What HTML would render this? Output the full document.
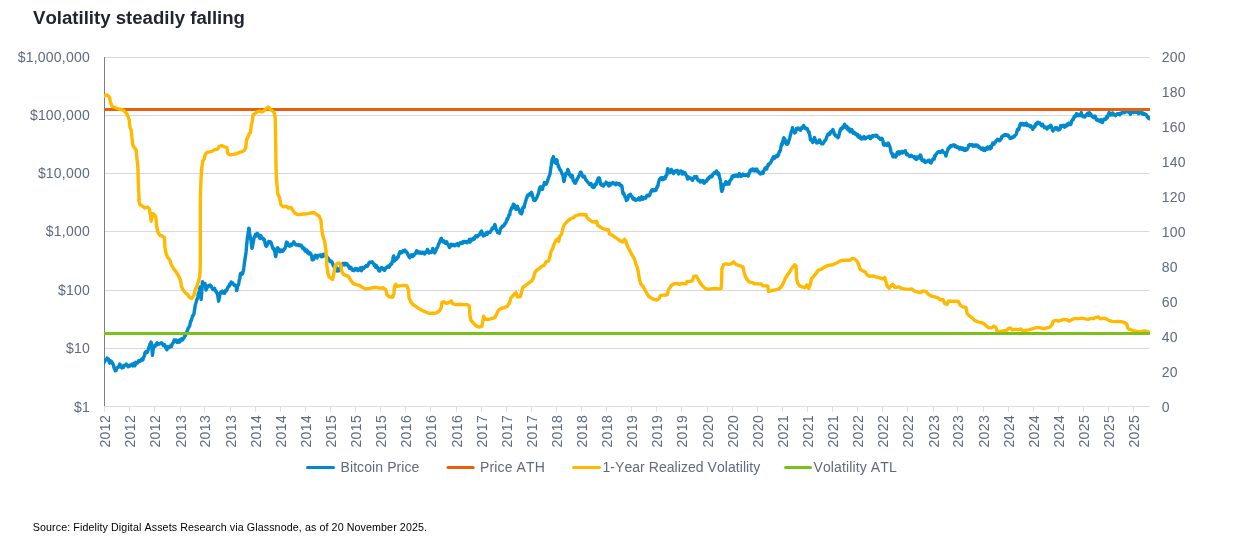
<!DOCTYPE html>
<html><head><meta charset="utf-8"><title>Volatility steadily falling</title>
<style>
html,body{margin:0;padding:0;background:#fff;}
body{width:1234px;height:538px;overflow:hidden;font-family:"Liberation Sans",sans-serif;}
svg{display:block;position:absolute;left:0;top:0;will-change:transform;}
svg text{font-family:"Liberation Sans",sans-serif;font-kerning:none;}
.ax{font-size:14px;fill:#5f6980;letter-spacing:0.2px;}
</style></head><body>
<svg width="1234" height="538" viewBox="0 0 1234 538">
<rect x="0" y="0" width="1234" height="538" fill="#ffffff"/>
<text x="33" y="24.2" font-size="18.63px" font-weight="bold" fill="#1f2430">Volatility steadily falling</text>

<rect x="105" y="57" width="1044.4" height="1" fill="#d9d9dc"/>
<rect x="105" y="115" width="1044.4" height="1" fill="#d9d9dc"/>
<rect x="105" y="173" width="1044.4" height="1" fill="#d9d9dc"/>
<rect x="105" y="231" width="1044.4" height="1" fill="#d9d9dc"/>
<rect x="105" y="290" width="1044.4" height="1" fill="#d9d9dc"/>
<rect x="105" y="348" width="1044.4" height="1" fill="#d9d9dc"/>
<rect x="104" y="406" width="1045.4" height="1" fill="#d9dce4"/>
<rect x="104" y="57" width="1" height="349" fill="#7f7f7f"/>
<text class="ax" x="89.9" y="62.10" text-anchor="end">$1,000,000</text>
<text class="ax" x="89.9" y="120.10" text-anchor="end">$100,000</text>
<text class="ax" x="89.9" y="178.10" text-anchor="end">$10,000</text>
<text class="ax" x="89.9" y="236.10" text-anchor="end">$1,000</text>
<text class="ax" x="89.9" y="295.10" text-anchor="end">$100</text>
<text class="ax" x="89.9" y="353.10" text-anchor="end">$10</text>
<text class="ax" x="89.9" y="412.10" text-anchor="end">$1</text>
<text class="ax" x="1161.7" y="62.10" style="letter-spacing:0.3px">200</text>
<text class="ax" x="1161.7" y="97.10" style="letter-spacing:0.3px">180</text>
<text class="ax" x="1161.7" y="132.10" style="letter-spacing:0.3px">160</text>
<text class="ax" x="1161.7" y="167.10" style="letter-spacing:0.3px">140</text>
<text class="ax" x="1161.7" y="202.10" style="letter-spacing:0.3px">120</text>
<text class="ax" x="1161.7" y="237.10" style="letter-spacing:0.3px">100</text>
<text class="ax" x="1161.7" y="272.10" style="letter-spacing:0.3px">80</text>
<text class="ax" x="1161.7" y="307.10" style="letter-spacing:0.3px">60</text>
<text class="ax" x="1161.7" y="342.10" style="letter-spacing:0.3px">40</text>
<text class="ax" x="1161.7" y="377.10" style="letter-spacing:0.3px">20</text>
<text class="ax" x="1161.7" y="412.10" style="letter-spacing:0.3px">0</text>
<rect x="104" y="407" width="1" height="5" fill="#dde0e8"/>
<text class="ax" style="letter-spacing:0.42px" transform="translate(109.50,447.6) rotate(-90)">2012</text>
<rect x="129" y="407" width="1" height="5" fill="#dde0e8"/>
<text class="ax" style="letter-spacing:0.42px" transform="translate(134.50,447.6) rotate(-90)">2012</text>
<rect x="154" y="407" width="1" height="5" fill="#dde0e8"/>
<text class="ax" style="letter-spacing:0.42px" transform="translate(159.50,447.6) rotate(-90)">2012</text>
<rect x="180" y="407" width="1" height="5" fill="#dde0e8"/>
<text class="ax" style="letter-spacing:0.42px" transform="translate(185.50,447.6) rotate(-90)">2013</text>
<rect x="204" y="407" width="1" height="5" fill="#dde0e8"/>
<text class="ax" style="letter-spacing:0.42px" transform="translate(209.50,447.6) rotate(-90)">2013</text>
<rect x="230" y="407" width="1" height="5" fill="#dde0e8"/>
<text class="ax" style="letter-spacing:0.42px" transform="translate(235.50,447.6) rotate(-90)">2013</text>
<rect x="255" y="407" width="1" height="5" fill="#dde0e8"/>
<text class="ax" style="letter-spacing:0.42px" transform="translate(260.50,447.6) rotate(-90)">2014</text>
<rect x="280" y="407" width="1" height="5" fill="#dde0e8"/>
<text class="ax" style="letter-spacing:0.42px" transform="translate(285.50,447.6) rotate(-90)">2014</text>
<rect x="305" y="407" width="1" height="5" fill="#dde0e8"/>
<text class="ax" style="letter-spacing:0.42px" transform="translate(310.50,447.6) rotate(-90)">2014</text>
<rect x="330" y="407" width="1" height="5" fill="#dde0e8"/>
<text class="ax" style="letter-spacing:0.42px" transform="translate(335.50,447.6) rotate(-90)">2015</text>
<rect x="355" y="407" width="1" height="5" fill="#dde0e8"/>
<text class="ax" style="letter-spacing:0.42px" transform="translate(360.50,447.6) rotate(-90)">2015</text>
<rect x="380" y="407" width="1" height="5" fill="#dde0e8"/>
<text class="ax" style="letter-spacing:0.42px" transform="translate(385.50,447.6) rotate(-90)">2015</text>
<rect x="405" y="407" width="1" height="5" fill="#dde0e8"/>
<text class="ax" style="letter-spacing:0.42px" transform="translate(410.50,447.6) rotate(-90)">2016</text>
<rect x="430" y="407" width="1" height="5" fill="#dde0e8"/>
<text class="ax" style="letter-spacing:0.42px" transform="translate(435.50,447.6) rotate(-90)">2016</text>
<rect x="456" y="407" width="1" height="5" fill="#dde0e8"/>
<text class="ax" style="letter-spacing:0.42px" transform="translate(461.50,447.6) rotate(-90)">2016</text>
<rect x="481" y="407" width="1" height="5" fill="#dde0e8"/>
<text class="ax" style="letter-spacing:0.42px" transform="translate(486.50,447.6) rotate(-90)">2017</text>
<rect x="506" y="407" width="1" height="5" fill="#dde0e8"/>
<text class="ax" style="letter-spacing:0.42px" transform="translate(511.50,447.6) rotate(-90)">2017</text>
<rect x="531" y="407" width="1" height="5" fill="#dde0e8"/>
<text class="ax" style="letter-spacing:0.42px" transform="translate(536.50,447.6) rotate(-90)">2017</text>
<rect x="556" y="407" width="1" height="5" fill="#dde0e8"/>
<text class="ax" style="letter-spacing:0.42px" transform="translate(561.50,447.6) rotate(-90)">2018</text>
<rect x="581" y="407" width="1" height="5" fill="#dde0e8"/>
<text class="ax" style="letter-spacing:0.42px" transform="translate(586.50,447.6) rotate(-90)">2018</text>
<rect x="606" y="407" width="1" height="5" fill="#dde0e8"/>
<text class="ax" style="letter-spacing:0.42px" transform="translate(611.50,447.6) rotate(-90)">2018</text>
<rect x="631" y="407" width="1" height="5" fill="#dde0e8"/>
<text class="ax" style="letter-spacing:0.42px" transform="translate(636.50,447.6) rotate(-90)">2019</text>
<rect x="656" y="407" width="1" height="5" fill="#dde0e8"/>
<text class="ax" style="letter-spacing:0.42px" transform="translate(661.50,447.6) rotate(-90)">2019</text>
<rect x="681" y="407" width="1" height="5" fill="#dde0e8"/>
<text class="ax" style="letter-spacing:0.42px" transform="translate(686.50,447.6) rotate(-90)">2019</text>
<rect x="707" y="407" width="1" height="5" fill="#dde0e8"/>
<text class="ax" style="letter-spacing:0.42px" transform="translate(712.50,447.6) rotate(-90)">2020</text>
<rect x="732" y="407" width="1" height="5" fill="#dde0e8"/>
<text class="ax" style="letter-spacing:0.42px" transform="translate(737.50,447.6) rotate(-90)">2020</text>
<rect x="757" y="407" width="1" height="5" fill="#dde0e8"/>
<text class="ax" style="letter-spacing:0.42px" transform="translate(762.50,447.6) rotate(-90)">2020</text>
<rect x="782" y="407" width="1" height="5" fill="#dde0e8"/>
<text class="ax" style="letter-spacing:0.42px" transform="translate(787.50,447.6) rotate(-90)">2021</text>
<rect x="807" y="407" width="1" height="5" fill="#dde0e8"/>
<text class="ax" style="letter-spacing:0.42px" transform="translate(812.50,447.6) rotate(-90)">2021</text>
<rect x="832" y="407" width="1" height="5" fill="#dde0e8"/>
<text class="ax" style="letter-spacing:0.42px" transform="translate(837.50,447.6) rotate(-90)">2021</text>
<rect x="857" y="407" width="1" height="5" fill="#dde0e8"/>
<text class="ax" style="letter-spacing:0.42px" transform="translate(862.50,447.6) rotate(-90)">2022</text>
<rect x="882" y="407" width="1" height="5" fill="#dde0e8"/>
<text class="ax" style="letter-spacing:0.42px" transform="translate(887.50,447.6) rotate(-90)">2022</text>
<rect x="907" y="407" width="1" height="5" fill="#dde0e8"/>
<text class="ax" style="letter-spacing:0.42px" transform="translate(912.50,447.6) rotate(-90)">2022</text>
<rect x="933" y="407" width="1" height="5" fill="#dde0e8"/>
<text class="ax" style="letter-spacing:0.42px" transform="translate(938.50,447.6) rotate(-90)">2023</text>
<rect x="957" y="407" width="1" height="5" fill="#dde0e8"/>
<text class="ax" style="letter-spacing:0.42px" transform="translate(962.50,447.6) rotate(-90)">2023</text>
<rect x="983" y="407" width="1" height="5" fill="#dde0e8"/>
<text class="ax" style="letter-spacing:0.42px" transform="translate(988.50,447.6) rotate(-90)">2023</text>
<rect x="1008" y="407" width="1" height="5" fill="#dde0e8"/>
<text class="ax" style="letter-spacing:0.42px" transform="translate(1013.50,447.6) rotate(-90)">2024</text>
<rect x="1033" y="407" width="1" height="5" fill="#dde0e8"/>
<text class="ax" style="letter-spacing:0.42px" transform="translate(1038.50,447.6) rotate(-90)">2024</text>
<rect x="1058" y="407" width="1" height="5" fill="#dde0e8"/>
<text class="ax" style="letter-spacing:0.42px" transform="translate(1063.50,447.6) rotate(-90)">2024</text>
<rect x="1083" y="407" width="1" height="5" fill="#dde0e8"/>
<text class="ax" style="letter-spacing:0.42px" transform="translate(1088.50,447.6) rotate(-90)">2025</text>
<rect x="1108" y="407" width="1" height="5" fill="#dde0e8"/>
<text class="ax" style="letter-spacing:0.42px" transform="translate(1113.50,447.6) rotate(-90)">2025</text>
<rect x="1133" y="407" width="1" height="5" fill="#dde0e8"/>
<text class="ax" style="letter-spacing:0.42px" transform="translate(1138.50,447.6) rotate(-90)">2025</text>
<clipPath id="plot"><rect x="104" y="50" width="1046" height="360"/></clipPath>
<g clip-path="url(#plot)">
<path d="M103.0,363.9 L103.5,363.8 L103.9,362.9 L104.4,362.0 L104.8,360.7 L105.3,360.1 L105.7,360.3 L106.2,359.6 L106.6,359.3 L107.1,358.1 L107.5,358.9 L108.0,359.6 L108.4,359.0 L108.9,361.0 L109.3,362.2 L109.8,363.1 L110.2,361.7 L110.7,360.9 L111.1,361.2 L111.6,361.7 L112.0,362.6 L112.5,362.9 L112.9,364.3 L113.4,365.0 L113.8,366.8 L114.3,368.4 L114.7,369.1 L115.2,370.8 L115.6,370.4 L116.1,370.5 L116.5,369.1 L117.0,368.0 L117.4,367.6 L117.9,367.4 L118.3,367.3 L118.8,366.6 L119.2,365.4 L119.7,364.0 L120.1,364.5 L120.6,366.6 L121.0,366.5 L121.5,367.5 L121.9,367.9 L122.4,366.4 L122.8,366.6 L123.3,367.6 L123.7,365.5 L124.2,365.6 L124.6,365.6 L125.1,365.1 L125.5,365.6 L126.0,365.4 L126.4,364.1 L126.9,365.1 L127.3,365.3 L127.8,365.8 L128.2,366.7 L128.7,366.5 L129.1,366.3 L129.6,365.2 L130.0,366.0 L130.5,365.4 L130.9,365.2 L131.4,364.4 L131.8,364.2 L132.3,364.4 L132.7,365.9 L133.2,364.2 L133.6,363.6 L134.1,364.5 L134.5,365.8 L134.9,365.8 L135.4,363.9 L135.8,362.3 L136.3,363.6 L136.7,363.4 L137.2,362.8 L137.6,362.9 L138.1,362.4 L138.5,360.8 L139.0,360.4 L139.4,360.4 L139.9,361.3 L140.3,361.0 L140.8,360.7 L141.2,360.6 L141.7,358.9 L142.1,359.8 L142.6,360.0 L143.0,359.6 L143.5,357.4 L143.9,356.8 L144.4,356.3 L144.8,353.3 L145.3,352.2 L145.7,352.9 L146.2,351.5 L146.6,352.7 L147.1,352.5 L147.5,351.7 L148.0,350.3 L148.4,349.0 L148.9,347.2 L149.3,346.7 L149.8,344.7 L150.2,343.4 L150.7,343.3 L151.1,342.0 L151.6,344.4 L152.0,350.5 L152.5,355.2 L152.9,351.5 L153.4,347.6 L153.8,346.7 L154.3,346.3 L154.7,345.7 L155.2,346.4 L155.6,344.7 L156.1,345.2 L156.5,343.4 L157.0,342.9 L157.4,343.6 L157.9,344.4 L158.3,344.5 L158.8,344.1 L159.2,343.7 L159.7,343.4 L160.1,343.6 L160.6,343.0 L161.0,343.0 L161.5,343.1 L161.9,343.0 L162.4,343.7 L162.8,344.1 L163.3,345.6 L163.7,345.3 L164.2,344.7 L164.6,344.6 L165.1,345.7 L165.5,347.5 L166.0,348.1 L166.4,348.7 L166.9,349.8 L167.3,347.0 L167.8,346.6 L168.2,347.3 L168.7,347.7 L169.1,347.8 L169.6,346.8 L170.0,346.9 L170.5,346.4 L170.9,345.2 L171.4,346.6 L171.8,345.5 L172.3,344.0 L172.7,343.4 L173.2,342.8 L173.6,342.4 L174.1,340.0 L174.5,340.2 L175.0,341.2 L175.4,340.0 L175.9,340.0 L176.3,341.1 L176.8,341.6 L177.2,342.4 L177.7,340.5 L178.1,340.5 L178.6,340.5 L179.0,341.3 L179.5,342.1 L179.9,339.8 L180.4,341.0 L180.8,339.6 L181.3,340.2 L181.7,338.8 L182.2,339.1 L182.6,339.9 L183.1,339.1 L183.5,338.3 L184.0,337.9 L184.4,336.7 L184.9,335.5 L185.3,335.6 L185.8,334.7 L186.2,332.8 L186.7,333.6 L187.1,330.6 L187.6,330.1 L188.0,328.6 L188.5,327.7 L188.9,327.2 L189.4,326.1 L189.8,325.5 L190.3,322.8 L190.7,320.9 L191.2,320.9 L191.6,319.3 L192.1,317.8 L192.5,315.9 L193.0,315.9 L193.4,314.8 L193.9,314.0 L194.3,311.0 L194.8,308.6 L195.2,305.3 L195.7,303.8 L196.1,302.5 L196.6,299.7 L197.0,299.5 L197.5,298.4 L197.9,296.3 L198.4,293.2 L198.8,293.3 L199.3,291.1 L199.7,288.6 L200.2,287.1 L200.6,289.5 L201.1,299.5 L201.5,295.4 L202.0,288.6 L202.4,281.7 L202.9,283.6 L203.3,284.9 L203.8,285.6 L204.2,285.0 L204.7,283.4 L205.1,283.7 L205.6,287.7 L206.0,290.1 L206.5,288.8 L206.9,288.2 L207.4,286.3 L207.8,286.8 L208.3,286.6 L208.7,285.6 L209.2,285.3 L209.6,285.4 L210.1,285.0 L210.5,286.1 L211.0,285.8 L211.4,286.6 L211.9,287.5 L212.3,288.8 L212.8,288.3 L213.2,289.6 L213.7,288.7 L214.1,288.7 L214.6,288.3 L215.0,290.5 L215.5,290.2 L215.9,291.2 L216.4,292.0 L216.8,293.1 L217.3,293.8 L217.7,295.2 L218.2,298.7 L218.6,301.2 L219.1,299.2 L219.5,296.9 L220.0,293.8 L220.4,292.4 L220.9,292.1 L221.3,293.0 L221.8,291.4 L222.2,291.1 L222.7,292.3 L223.1,293.0 L223.6,292.8 L224.0,293.4 L224.5,293.3 L224.9,292.2 L225.4,290.7 L225.8,290.3 L226.3,291.0 L226.7,290.0 L227.2,289.0 L227.6,288.2 L228.1,286.8 L228.5,286.9 L229.0,285.8 L229.4,286.0 L229.9,283.8 L230.3,284.3 L230.8,283.5 L231.2,281.9 L231.7,283.6 L232.1,283.9 L232.6,282.7 L233.0,283.2 L233.5,284.5 L233.9,284.5 L234.4,285.3 L234.8,285.6 L235.3,285.7 L235.7,285.4 L236.2,286.2 L236.6,290.6 L237.1,289.3 L237.5,285.8 L238.0,285.5 L238.4,285.1 L238.9,282.5 L239.3,279.8 L239.8,279.0 L240.2,274.9 L240.7,273.4 L241.1,274.9 L241.6,273.1 L242.0,273.3 L242.5,274.1 L242.9,272.8 L243.4,270.2 L243.8,267.8 L244.3,264.0 L244.7,260.9 L245.2,257.9 L245.6,255.2 L246.1,251.7 L246.5,247.0 L247.0,241.7 L247.4,237.4 L247.9,235.2 L248.3,232.0 L248.8,228.1 L249.2,228.8 L249.7,233.7 L250.1,236.2 L250.6,239.0 L251.0,240.1 L251.5,244.9 L251.9,248.4 L252.4,247.3 L252.8,244.7 L253.3,241.9 L253.7,240.0 L254.2,237.0 L254.6,237.0 L255.1,235.8 L255.5,234.3 L256.0,235.2 L256.4,236.1 L256.9,234.0 L257.3,233.4 L257.8,234.4 L258.2,235.1 L258.7,235.4 L259.1,235.3 L259.6,237.9 L260.0,238.5 L260.5,236.7 L260.9,235.5 L261.4,237.1 L261.8,237.3 L262.3,237.9 L262.7,238.6 L263.2,238.4 L263.6,239.7 L264.1,239.2 L264.5,240.6 L265.0,242.6 L265.4,244.9 L265.9,245.8 L266.3,246.2 L266.8,245.7 L267.2,244.9 L267.7,244.2 L268.1,243.0 L268.6,241.5 L269.0,242.3 L269.5,242.3 L269.9,241.8 L270.4,241.8 L270.8,242.3 L271.3,243.2 L271.7,244.8 L272.2,246.3 L272.6,247.8 L273.1,248.6 L273.5,248.3 L274.0,249.6 L274.4,251.0 L274.9,251.9 L275.3,255.2 L275.8,256.6 L276.2,253.5 L276.7,250.0 L277.1,248.5 L277.6,247.7 L278.0,249.6 L278.5,249.7 L278.9,248.9 L279.4,250.0 L279.8,251.9 L280.3,251.5 L280.7,250.4 L281.2,250.1 L281.6,250.9 L282.1,251.2 L282.5,250.8 L283.0,251.2 L283.4,250.4 L283.9,249.2 L284.3,248.7 L284.8,248.9 L285.2,247.6 L285.7,246.4 L286.1,243.5 L286.6,242.0 L287.0,242.3 L287.5,242.7 L287.9,244.3 L288.4,245.2 L288.8,245.7 L289.3,244.8 L289.7,246.2 L290.2,246.0 L290.6,244.6 L291.1,244.0 L291.5,245.4 L292.0,243.9 L292.4,243.9 L292.9,243.9 L293.3,243.0 L293.8,241.8 L294.2,242.5 L294.7,243.1 L295.1,244.2 L295.6,244.7 L296.0,244.5 L296.5,245.0 L296.9,245.1 L297.4,245.0 L297.8,244.8 L298.3,244.6 L298.7,245.4 L299.2,244.8 L299.6,245.0 L300.1,245.8 L300.5,245.3 L301.0,246.0 L301.4,245.3 L301.9,246.1 L302.3,247.5 L302.8,248.5 L303.2,248.7 L303.7,248.8 L304.1,248.1 L304.6,250.2 L305.0,250.6 L305.5,251.3 L305.9,250.3 L306.4,250.7 L306.8,249.9 L307.3,251.7 L307.7,253.0 L308.2,251.8 L308.6,252.8 L309.1,254.0 L309.5,253.1 L310.0,252.8 L310.4,253.3 L310.9,254.2 L311.3,255.0 L311.8,257.5 L312.2,259.8 L312.7,259.9 L313.1,259.5 L313.6,259.5 L314.0,258.9 L314.5,256.4 L314.9,255.6 L315.4,255.3 L315.8,255.3 L316.3,256.3 L316.7,257.0 L317.2,257.9 L317.6,256.4 L318.1,255.5 L318.5,255.7 L319.0,255.5 L319.4,255.1 L319.9,255.1 L320.3,255.0 L320.8,256.2 L321.2,256.7 L321.7,256.8 L322.1,256.6 L322.6,256.6 L323.0,254.5 L323.5,254.5 L323.9,255.2 L324.4,254.4 L324.8,255.1 L325.3,255.8 L325.7,255.1 L326.2,255.7 L326.6,256.1 L327.1,257.0 L327.5,258.0 L328.0,258.4 L328.4,258.4 L328.9,259.2 L329.3,260.0 L329.8,261.3 L330.2,261.8 L330.7,261.5 L331.1,261.1 L331.6,261.8 L332.0,262.1 L332.5,262.6 L332.9,264.5 L333.4,265.9 L333.8,266.5 L334.3,266.9 L334.7,266.3 L335.2,267.9 L335.6,266.7 L336.1,267.4 L336.5,268.7 L337.0,271.0 L337.4,269.6 L337.9,269.0 L338.3,269.3 L338.8,269.5 L339.2,270.7 L339.7,269.0 L340.1,268.3 L340.6,267.1 L341.0,266.1 L341.5,265.7 L341.9,264.9 L342.4,264.9 L342.8,263.6 L343.3,264.6 L343.7,263.4 L344.2,263.5 L344.6,265.0 L345.1,263.9 L345.5,263.4 L346.0,264.0 L346.4,264.0 L346.9,263.7 L347.3,264.5 L347.8,265.5 L348.2,266.4 L348.7,265.8 L349.1,267.4 L349.6,268.3 L350.0,267.7 L350.5,267.7 L350.9,267.2 L351.4,269.0 L351.8,268.8 L352.3,270.1 L352.7,270.3 L353.2,269.5 L353.6,270.0 L354.1,270.6 L354.5,269.8 L355.0,268.8 L355.4,269.2 L355.9,268.6 L356.3,268.8 L356.8,269.8 L357.2,270.1 L357.7,269.1 L358.1,270.6 L358.6,269.8 L359.0,269.9 L359.5,269.0 L359.9,269.0 L360.4,267.8 L360.8,269.8 L361.3,270.7 L361.7,269.3 L362.2,268.4 L362.6,267.4 L363.1,268.8 L363.5,268.2 L364.0,268.1 L364.4,267.6 L364.9,267.4 L365.3,266.4 L365.8,266.6 L366.2,265.5 L366.7,265.7 L367.1,266.0 L367.6,266.2 L368.0,265.2 L368.5,263.7 L368.9,263.4 L369.4,262.3 L369.8,262.9 L370.3,262.5 L370.7,262.3 L371.2,262.0 L371.6,261.9 L372.1,261.8 L372.5,262.2 L373.0,262.9 L373.4,263.6 L373.9,264.1 L374.3,265.6 L374.8,264.5 L375.2,264.9 L375.7,267.4 L376.1,265.6 L376.6,265.8 L377.0,266.8 L377.5,267.7 L377.9,268.8 L378.4,269.4 L378.8,270.5 L379.3,271.0 L379.7,271.1 L380.2,269.0 L380.6,268.4 L381.1,268.6 L381.5,267.8 L382.0,267.5 L382.4,268.7 L382.9,268.5 L383.3,269.4 L383.8,270.0 L384.2,270.1 L384.7,270.3 L385.1,269.4 L385.6,267.8 L386.0,267.7 L386.5,267.8 L386.9,267.0 L387.4,266.7 L387.8,267.0 L388.3,265.9 L388.7,266.2 L389.2,267.2 L389.6,265.8 L390.1,265.1 L390.5,264.3 L391.0,264.8 L391.4,263.9 L391.9,263.6 L392.3,261.4 L392.8,259.3 L393.2,257.2 L393.7,255.9 L394.1,259.1 L394.6,261.0 L395.0,259.2 L395.5,259.8 L395.9,259.3 L396.4,259.3 L396.8,259.1 L397.3,257.2 L397.7,256.7 L398.2,257.3 L398.6,255.7 L399.1,254.1 L399.5,252.6 L400.0,251.7 L400.4,252.1 L400.9,253.0 L401.3,252.3 L401.8,251.5 L402.2,252.4 L402.7,251.2 L403.1,250.5 L403.6,251.0 L404.0,251.4 L404.5,250.4 L404.9,250.1 L405.4,251.2 L405.8,252.0 L406.3,251.5 L406.7,252.3 L407.2,252.7 L407.6,254.2 L408.1,255.0 L408.5,255.9 L409.0,256.5 L409.4,257.4 L409.9,257.7 L410.3,256.4 L410.8,256.4 L411.2,254.9 L411.7,254.7 L412.1,255.3 L412.6,256.4 L413.0,255.6 L413.5,255.4 L413.9,255.6 L414.4,254.1 L414.8,254.1 L415.3,253.3 L415.7,253.5 L416.2,252.2 L416.6,250.7 L417.1,251.1 L417.5,251.9 L418.0,251.8 L418.4,252.9 L418.9,252.7 L419.3,252.4 L419.8,253.1 L420.2,252.0 L420.7,252.2 L421.1,252.6 L421.6,253.4 L422.0,253.0 L422.5,253.1 L422.9,252.3 L423.4,252.6 L423.8,253.6 L424.3,252.4 L424.7,254.0 L425.2,252.5 L425.6,252.1 L426.1,251.9 L426.5,252.4 L427.0,250.9 L427.4,249.4 L427.9,250.5 L428.3,251.2 L428.8,251.4 L429.2,253.0 L429.7,252.0 L430.1,251.5 L430.6,251.7 L431.0,251.4 L431.5,252.4 L431.9,250.9 L432.4,250.7 L432.8,248.5 L433.3,250.5 L433.7,250.5 L434.2,251.5 L434.6,252.9 L435.1,252.0 L435.5,251.3 L436.0,250.4 L436.4,248.9 L436.9,247.8 L437.3,247.7 L437.8,246.6 L438.2,245.3 L438.7,243.9 L439.1,243.3 L439.6,242.1 L440.0,240.6 L440.5,239.9 L440.9,238.8 L441.4,238.3 L441.8,240.3 L442.3,240.9 L442.7,240.4 L443.2,241.9 L443.6,242.1 L444.1,240.9 L444.5,242.6 L445.0,242.7 L445.4,243.3 L445.9,243.1 L446.3,242.9 L446.8,241.8 L447.2,243.4 L447.7,244.1 L448.1,244.6 L448.6,245.7 L449.0,246.4 L449.5,247.6 L449.9,246.8 L450.4,246.3 L450.8,244.3 L451.3,244.2 L451.7,244.8 L452.2,245.5 L452.6,244.8 L453.1,244.5 L453.5,245.6 L454.0,244.7 L454.4,244.9 L454.9,245.8 L455.3,244.9 L455.8,245.3 L456.2,244.1 L456.7,244.1 L457.1,243.8 L457.6,243.8 L458.0,244.5 L458.5,245.8 L458.9,244.2 L459.4,243.4 L459.8,243.7 L460.3,242.7 L460.7,243.3 L461.2,243.6 L461.6,243.2 L462.1,243.5 L462.5,242.1 L463.0,243.0 L463.4,241.7 L463.9,241.5 L464.3,241.4 L464.8,241.4 L465.2,242.3 L465.7,242.1 L466.1,241.5 L466.6,241.9 L467.0,242.7 L467.5,241.8 L467.9,241.4 L468.4,241.8 L468.8,241.1 L469.3,239.4 L469.7,241.2 L470.2,242.1 L470.6,239.3 L471.1,239.3 L471.5,239.5 L472.0,240.0 L472.4,240.0 L472.9,239.3 L473.3,238.3 L473.8,238.4 L474.2,239.1 L474.7,237.8 L475.1,237.0 L475.6,237.2 L476.0,235.8 L476.5,236.2 L476.9,236.2 L477.4,236.7 L477.8,235.9 L478.3,235.3 L478.7,235.1 L479.2,235.1 L479.6,234.2 L480.1,233.1 L480.5,232.4 L481.0,231.7 L481.4,231.0 L481.9,232.0 L482.3,234.6 L482.8,233.9 L483.2,236.0 L483.7,235.1 L484.1,235.1 L484.6,235.4 L485.0,234.1 L485.5,234.6 L485.9,234.4 L486.4,232.8 L486.8,233.3 L487.3,234.2 L487.7,232.2 L488.2,233.0 L488.6,232.7 L489.1,232.5 L489.5,232.2 L490.0,232.5 L490.4,231.3 L490.9,231.2 L491.3,229.9 L491.8,229.7 L492.2,228.2 L492.7,227.7 L493.1,228.5 L493.6,227.8 L494.0,226.8 L494.5,225.3 L494.9,224.5 L495.4,226.2 L495.8,228.3 L496.3,229.7 L496.7,230.7 L497.2,231.1 L497.6,232.5 L498.1,232.0 L498.5,231.8 L499.0,233.0 L499.4,233.2 L499.9,231.5 L500.3,229.6 L500.8,228.2 L501.2,227.6 L501.7,227.5 L502.1,226.2 L502.6,226.6 L503.0,226.5 L503.5,225.5 L503.9,225.8 L504.4,224.6 L504.8,223.5 L505.3,223.3 L505.7,223.2 L506.2,221.3 L506.6,220.6 L507.1,218.8 L507.5,219.7 L508.0,217.7 L508.4,217.3 L508.9,215.1 L509.3,214.6 L509.8,214.8 L510.2,210.9 L510.7,209.9 L511.1,209.6 L511.6,208.6 L512.0,207.1 L512.5,208.1 L512.9,206.7 L513.4,204.2 L513.8,205.0 L514.3,204.7 L514.7,207.2 L515.2,207.7 L515.6,208.5 L516.1,209.3 L516.5,208.8 L517.0,207.3 L517.4,206.2 L517.9,208.3 L518.3,209.3 L518.8,208.9 L519.2,210.2 L519.7,211.3 L520.1,212.7 L520.6,212.0 L521.0,213.6 L521.5,213.9 L521.9,212.8 L522.4,211.5 L522.8,207.6 L523.3,207.1 L523.7,206.6 L524.2,207.4 L524.6,204.7 L525.1,203.0 L525.5,201.4 L526.0,200.5 L526.4,198.2 L526.9,197.8 L527.3,195.9 L527.8,195.3 L528.2,194.7 L528.7,195.0 L529.1,194.7 L529.6,193.8 L530.0,195.1 L530.5,194.5 L530.9,193.0 L531.4,192.4 L531.8,193.4 L532.3,194.4 L532.7,196.4 L533.2,198.4 L533.6,199.8 L534.1,200.4 L534.5,199.4 L535.0,200.4 L535.4,199.9 L535.9,199.2 L536.3,198.2 L536.8,197.7 L537.2,196.5 L537.7,195.1 L538.1,194.2 L538.6,193.5 L539.0,191.3 L539.5,188.6 L539.9,187.6 L540.4,186.9 L540.8,188.1 L541.3,187.5 L541.7,188.3 L542.2,189.5 L542.6,188.7 L543.1,186.7 L543.5,185.7 L544.0,184.7 L544.4,182.4 L544.9,182.9 L545.3,183.8 L545.8,184.0 L546.2,184.2 L546.7,183.3 L547.1,182.1 L547.6,180.8 L548.0,179.4 L548.5,177.9 L548.9,176.9 L549.4,175.7 L549.8,174.7 L550.3,172.2 L550.7,168.3 L551.2,165.8 L551.6,162.5 L552.1,159.5 L552.5,158.7 L553.0,158.1 L553.4,156.6 L553.9,159.3 L554.3,159.4 L554.8,162.5 L555.2,161.2 L555.7,161.9 L556.1,163.2 L556.6,159.6 L557.0,160.3 L557.5,162.8 L557.9,164.4 L558.4,166.8 L558.8,166.3 L559.3,168.3 L559.7,169.3 L560.2,169.9 L560.6,170.1 L561.1,171.4 L561.5,172.2 L562.0,173.8 L562.4,174.6 L562.9,174.5 L563.3,178.1 L563.8,181.6 L564.2,181.0 L564.7,178.2 L565.1,176.4 L565.6,175.0 L566.0,173.0 L566.5,173.1 L566.9,173.7 L567.4,171.6 L567.8,169.5 L568.3,170.2 L568.7,171.6 L569.2,173.4 L569.6,175.0 L570.1,175.5 L570.5,175.9 L571.0,177.0 L571.4,176.3 L571.9,175.3 L572.3,175.5 L572.8,178.4 L573.2,180.7 L573.7,180.7 L574.1,181.3 L574.6,182.9 L575.0,182.7 L575.5,183.1 L575.9,181.9 L576.4,180.1 L576.8,180.5 L577.3,178.9 L577.7,178.2 L578.2,177.3 L578.6,176.1 L579.1,175.6 L579.5,174.7 L580.0,173.3 L580.4,172.2 L580.9,172.2 L581.3,172.9 L581.8,174.2 L582.2,175.3 L582.7,176.5 L583.1,177.1 L583.6,176.9 L584.0,177.1 L584.5,176.3 L584.9,177.5 L585.4,178.9 L585.8,179.9 L586.3,180.2 L586.7,180.5 L587.2,181.7 L587.6,181.9 L588.1,182.7 L588.5,183.2 L589.0,183.4 L589.4,184.4 L589.9,183.8 L590.3,183.7 L590.8,183.5 L591.2,183.6 L591.7,185.5 L592.1,186.8 L592.6,186.4 L593.0,186.7 L593.5,187.5 L593.9,187.1 L594.4,187.0 L594.8,184.8 L595.3,183.9 L595.7,184.0 L596.2,184.5 L596.6,183.1 L597.1,181.2 L597.5,180.1 L598.0,178.9 L598.4,178.0 L598.9,179.0 L599.3,177.9 L599.8,179.5 L600.2,182.6 L600.7,184.3 L601.1,184.9 L601.6,184.0 L602.0,184.4 L602.5,185.5 L602.9,185.5 L603.4,186.0 L603.8,185.1 L604.3,184.7 L604.7,183.8 L605.2,183.6 L605.6,184.0 L606.1,182.1 L606.6,182.6 L607.0,183.2 L607.5,183.1 L607.9,183.4 L608.4,184.6 L608.8,186.0 L609.3,185.6 L609.7,185.1 L610.2,183.3 L610.6,184.9 L611.1,184.3 L611.5,184.0 L612.0,183.0 L612.4,183.3 L612.9,182.6 L613.3,183.1 L613.8,183.7 L614.2,183.7 L614.7,183.9 L615.1,183.3 L615.6,184.8 L616.0,184.2 L616.5,183.1 L616.9,183.8 L617.4,183.8 L617.8,183.5 L618.3,183.7 L618.7,184.3 L619.2,183.5 L619.6,183.8 L620.1,185.2 L620.5,185.7 L621.0,185.4 L621.4,185.5 L621.9,186.0 L622.3,189.1 L622.8,192.8 L623.2,193.7 L623.7,192.9 L624.1,194.8 L624.6,195.4 L625.0,197.0 L625.5,197.3 L625.9,198.3 L626.4,200.6 L626.8,199.8 L627.3,199.6 L627.7,199.5 L628.2,197.2 L628.6,195.5 L629.1,195.5 L629.5,195.0 L630.0,194.3 L630.4,194.2 L630.9,195.8 L631.3,195.8 L631.8,196.1 L632.2,196.8 L632.7,198.1 L633.1,199.3 L633.6,199.3 L634.0,198.8 L634.5,198.5 L634.9,199.8 L635.4,200.3 L635.8,199.5 L636.3,199.7 L636.7,199.9 L637.2,199.9 L637.6,199.6 L638.1,198.7 L638.5,198.7 L639.0,197.9 L639.4,199.5 L639.9,199.9 L640.3,198.6 L640.8,199.4 L641.2,199.2 L641.7,196.8 L642.1,198.0 L642.6,198.1 L643.0,199.2 L643.5,197.4 L643.9,197.8 L644.4,197.9 L644.8,197.9 L645.3,197.7 L645.7,198.2 L646.2,196.5 L646.6,195.8 L647.1,195.2 L647.5,195.4 L648.0,195.3 L648.4,195.8 L648.9,195.9 L649.3,195.7 L649.8,194.8 L650.2,193.0 L650.7,192.4 L651.1,191.1 L651.6,190.3 L652.0,189.8 L652.5,190.8 L652.9,189.7 L653.4,190.0 L653.8,190.7 L654.3,190.0 L654.7,190.5 L655.2,189.4 L655.6,190.4 L656.1,190.2 L656.5,187.8 L657.0,187.8 L657.4,186.1 L657.9,186.2 L658.3,183.5 L658.8,181.6 L659.2,180.0 L659.7,179.2 L660.1,179.0 L660.6,178.0 L661.0,178.3 L661.5,178.7 L661.9,179.3 L662.4,177.6 L662.8,179.7 L663.3,179.5 L663.7,177.9 L664.2,178.3 L664.6,178.7 L665.1,178.6 L665.5,176.3 L666.0,176.5 L666.4,174.8 L666.9,174.7 L667.3,170.9 L667.8,168.7 L668.2,169.3 L668.7,169.6 L669.1,172.1 L669.6,172.5 L670.0,172.7 L670.5,172.1 L670.9,170.4 L671.4,169.5 L671.8,170.2 L672.3,170.8 L672.7,171.4 L673.2,173.0 L673.6,173.6 L674.1,172.6 L674.5,172.1 L675.0,171.3 L675.4,170.8 L675.9,170.7 L676.3,171.4 L676.8,171.0 L677.2,170.4 L677.7,172.5 L678.1,172.9 L678.6,173.9 L679.0,172.0 L679.5,171.9 L679.9,172.0 L680.4,170.9 L680.8,170.9 L681.3,172.0 L681.7,173.0 L682.2,174.0 L682.6,172.8 L683.1,171.9 L683.5,172.8 L684.0,173.7 L684.4,173.7 L684.9,172.7 L685.3,173.7 L685.8,174.3 L686.2,175.3 L686.7,175.9 L687.1,177.3 L687.6,179.1 L688.0,178.5 L688.5,176.9 L688.9,177.5 L689.4,177.9 L689.8,177.7 L690.3,178.2 L690.7,178.0 L691.2,178.6 L691.6,178.9 L692.1,180.1 L692.5,180.4 L693.0,178.5 L693.4,178.7 L693.9,177.8 L694.3,176.8 L694.8,176.8 L695.2,177.8 L695.7,177.0 L696.1,177.0 L696.6,176.6 L697.0,177.9 L697.5,179.5 L697.9,180.1 L698.4,180.7 L698.8,180.6 L699.3,181.1 L699.7,180.3 L700.2,182.0 L700.6,182.0 L701.1,181.4 L701.5,181.0 L702.0,180.7 L702.4,181.6 L702.9,182.2 L703.3,180.6 L703.8,182.0 L704.2,183.2 L704.7,182.9 L705.1,181.5 L705.6,181.1 L706.0,180.8 L706.5,181.3 L706.9,180.9 L707.4,179.1 L707.8,179.5 L708.3,178.1 L708.7,178.9 L709.2,177.5 L709.6,176.9 L710.1,176.3 L710.5,176.0 L711.0,177.0 L711.4,177.0 L711.9,176.6 L712.3,176.0 L712.8,174.2 L713.2,173.9 L713.7,173.5 L714.1,172.8 L714.6,173.4 L715.0,172.9 L715.5,172.5 L715.9,172.0 L716.4,170.9 L716.8,172.2 L717.3,173.7 L717.7,174.3 L718.2,174.1 L718.6,173.0 L719.1,174.9 L719.5,177.4 L720.0,178.7 L720.4,180.3 L720.9,184.2 L721.3,189.4 L721.8,191.4 L722.2,190.6 L722.7,189.4 L723.1,186.4 L723.6,185.4 L724.0,184.1 L724.5,184.2 L724.9,184.6 L725.4,183.3 L725.8,181.7 L726.3,183.3 L726.7,183.5 L727.2,184.2 L727.6,182.5 L728.1,183.2 L728.5,184.1 L729.0,184.1 L729.4,182.1 L729.9,181.0 L730.3,179.9 L730.8,179.8 L731.2,179.5 L731.7,178.4 L732.1,176.4 L732.6,176.7 L733.0,175.6 L733.5,175.7 L733.9,175.6 L734.4,176.5 L734.8,176.5 L735.3,175.2 L735.7,175.1 L736.2,176.1 L736.6,175.1 L737.1,175.3 L737.5,176.0 L738.0,176.5 L738.4,176.2 L738.9,174.5 L739.3,173.6 L739.8,174.2 L740.2,174.6 L740.7,176.4 L741.1,174.9 L741.6,175.7 L742.0,175.9 L742.5,174.3 L742.9,174.0 L743.4,174.7 L743.8,174.6 L744.3,174.9 L744.7,175.5 L745.2,174.8 L745.6,175.3 L746.1,174.8 L746.5,174.5 L747.0,175.2 L747.4,174.6 L747.9,175.0 L748.3,176.1 L748.8,174.5 L749.2,172.9 L749.7,172.2 L750.1,170.5 L750.6,171.2 L751.0,169.7 L751.5,170.2 L751.9,169.6 L752.4,169.0 L752.8,170.5 L753.3,169.3 L753.7,170.6 L754.2,170.4 L754.6,170.9 L755.1,169.3 L755.5,170.0 L756.0,170.6 L756.4,169.6 L756.9,169.1 L757.3,171.3 L757.8,171.4 L758.2,171.5 L758.7,171.8 L759.1,173.1 L759.6,173.1 L760.0,173.0 L760.5,174.0 L760.9,172.9 L761.4,172.9 L761.8,173.5 L762.3,172.0 L762.7,172.5 L763.2,173.3 L763.6,171.2 L764.1,170.1 L764.5,169.4 L765.0,168.3 L765.4,169.1 L765.9,167.5 L766.3,168.1 L766.8,169.0 L767.2,166.9 L767.7,166.4 L768.1,164.6 L768.6,165.3 L769.0,164.3 L769.5,163.8 L769.9,163.4 L770.4,163.2 L770.8,162.1 L771.3,161.4 L771.7,160.2 L772.2,159.8 L772.6,158.3 L773.1,158.4 L773.5,156.8 L774.0,156.9 L774.4,158.5 L774.9,157.9 L775.3,156.6 L775.8,157.0 L776.2,156.3 L776.7,155.3 L777.1,155.4 L777.6,156.4 L778.0,155.8 L778.5,154.7 L778.9,153.0 L779.4,151.4 L779.8,151.8 L780.3,150.5 L780.7,148.3 L781.2,145.7 L781.6,144.0 L782.1,145.1 L782.5,142.3 L783.0,140.9 L783.4,138.9 L783.9,137.7 L784.3,138.8 L784.8,139.2 L785.2,140.2 L785.7,143.1 L786.1,142.9 L786.6,144.2 L787.0,143.3 L787.5,144.1 L787.9,143.3 L788.4,142.7 L788.8,140.2 L789.3,139.5 L789.7,138.1 L790.2,135.8 L790.6,134.7 L791.1,132.4 L791.5,130.9 L792.0,130.4 L792.4,127.7 L792.9,129.3 L793.3,130.0 L793.8,130.4 L794.2,131.8 L794.7,133.0 L795.1,131.8 L795.6,132.0 L796.0,129.8 L796.5,128.4 L796.9,129.6 L797.4,129.1 L797.8,129.1 L798.3,128.1 L798.7,129.0 L799.2,129.3 L799.6,129.9 L800.1,129.8 L800.5,130.3 L801.0,129.2 L801.4,128.2 L801.9,127.2 L802.3,128.4 L802.8,127.3 L803.2,126.3 L803.7,125.6 L804.1,126.6 L804.6,126.9 L805.0,128.1 L805.5,128.8 L805.9,128.8 L806.4,128.4 L806.8,128.9 L807.3,128.7 L807.7,129.8 L808.2,131.2 L808.6,132.5 L809.1,131.9 L809.5,134.1 L810.0,136.3 L810.4,139.7 L810.9,139.2 L811.3,139.8 L811.8,140.7 L812.2,141.4 L812.7,142.4 L813.1,141.2 L813.6,141.3 L814.0,139.3 L814.5,137.6 L814.9,138.6 L815.4,139.9 L815.8,141.1 L816.3,141.9 L816.7,143.0 L817.2,142.1 L817.6,142.8 L818.1,141.9 L818.5,142.4 L819.0,141.9 L819.4,139.9 L819.9,140.1 L820.3,142.4 L820.8,142.9 L821.2,143.3 L821.7,143.8 L822.1,143.7 L822.6,143.6 L823.0,143.8 L823.5,142.8 L823.9,142.6 L824.4,140.9 L824.8,140.7 L825.3,140.4 L825.7,139.9 L826.2,138.8 L826.6,137.2 L827.1,136.1 L827.5,135.3 L828.0,134.3 L828.4,134.1 L828.9,133.4 L829.3,134.6 L829.8,134.4 L830.2,133.4 L830.7,131.7 L831.1,132.0 L831.6,131.8 L832.0,131.1 L832.5,130.7 L832.9,129.6 L833.4,131.0 L833.8,131.6 L834.3,134.4 L834.7,134.3 L835.2,134.4 L835.6,135.9 L836.1,136.1 L836.5,136.3 L837.0,136.1 L837.4,136.1 L837.9,137.8 L838.3,136.9 L838.8,136.3 L839.2,133.9 L839.7,132.3 L840.1,130.3 L840.6,130.4 L841.0,128.3 L841.5,128.2 L841.9,128.2 L842.4,128.5 L842.8,126.8 L843.3,127.2 L843.7,125.9 L844.2,125.0 L844.6,124.2 L845.1,126.0 L845.5,127.4 L846.0,126.6 L846.4,126.2 L846.9,126.4 L847.3,129.1 L847.8,129.6 L848.2,129.0 L848.7,128.0 L849.1,128.5 L849.6,130.3 L850.0,131.8 L850.5,131.1 L850.9,130.5 L851.4,130.4 L851.8,129.5 L852.3,131.5 L852.7,131.4 L853.2,133.3 L853.6,132.5 L854.1,132.2 L854.5,133.3 L855.0,133.1 L855.4,134.3 L855.9,134.4 L856.3,133.7 L856.8,134.9 L857.2,135.8 L857.7,134.4 L858.1,136.6 L858.6,136.9 L859.0,137.4 L859.5,135.9 L859.9,136.1 L860.4,136.6 L860.8,138.7 L861.3,138.3 L861.7,139.0 L862.2,137.8 L862.6,138.1 L863.1,138.4 L863.5,136.9 L864.0,136.6 L864.4,137.1 L864.9,138.7 L865.3,138.9 L865.8,138.5 L866.2,137.6 L866.7,137.5 L867.1,137.2 L867.6,137.1 L868.0,136.7 L868.5,137.4 L868.9,137.2 L869.4,136.3 L869.8,138.0 L870.3,138.6 L870.7,138.4 L871.2,137.7 L871.6,136.2 L872.1,135.9 L872.5,137.1 L873.0,136.4 L873.4,135.6 L873.9,135.9 L874.3,135.7 L874.8,135.6 L875.2,135.3 L875.7,136.1 L876.1,135.2 L876.6,136.3 L877.0,135.6 L877.5,136.6 L877.9,136.9 L878.4,137.2 L878.8,138.1 L879.3,138.0 L879.7,138.9 L880.2,139.4 L880.6,139.2 L881.1,138.7 L881.5,138.3 L882.0,138.5 L882.4,139.1 L882.9,140.6 L883.3,144.3 L883.8,145.1 L884.2,145.3 L884.7,144.3 L885.1,143.9 L885.6,144.1 L886.0,144.7 L886.5,144.0 L886.9,145.5 L887.4,144.6 L887.8,145.3 L888.3,143.1 L888.7,143.9 L889.2,145.2 L889.6,146.2 L890.1,147.4 L890.5,149.2 L891.0,151.9 L891.4,152.7 L891.9,153.8 L892.3,153.7 L892.8,156.4 L893.2,156.8 L893.7,156.4 L894.1,155.5 L894.6,155.1 L895.0,156.5 L895.5,157.0 L895.9,155.9 L896.4,156.1 L896.8,153.9 L897.3,152.3 L897.7,152.4 L898.2,151.9 L898.6,151.7 L899.1,152.0 L899.5,154.1 L900.0,152.4 L900.4,152.0 L900.9,152.0 L901.3,151.6 L901.8,152.1 L902.2,152.9 L902.7,151.4 L903.1,151.8 L903.6,151.8 L904.0,152.4 L904.5,151.5 L904.9,151.1 L905.4,150.7 L905.8,152.8 L906.3,153.9 L906.7,154.6 L907.2,153.5 L907.6,154.6 L908.1,155.2 L908.5,155.3 L909.0,155.5 L909.4,156.4 L909.9,156.6 L910.3,156.1 L910.8,156.0 L911.2,155.3 L911.7,155.7 L912.1,156.0 L912.6,156.7 L913.0,156.7 L913.5,156.8 L913.9,156.8 L914.4,156.5 L914.8,158.5 L915.3,158.4 L915.7,158.2 L916.2,159.5 L916.6,159.3 L917.1,156.9 L917.5,157.2 L918.0,157.3 L918.4,158.1 L918.9,158.1 L919.3,157.6 L919.8,155.8 L920.2,155.0 L920.7,155.3 L921.1,156.5 L921.6,159.1 L922.0,160.5 L922.5,160.5 L922.9,160.8 L923.4,161.2 L923.8,160.9 L924.3,160.1 L924.7,161.5 L925.2,162.4 L925.6,161.6 L926.1,162.0 L926.5,161.8 L927.0,161.7 L927.4,161.6 L927.9,160.5 L928.3,160.9 L928.8,161.4 L929.2,160.2 L929.7,161.7 L930.1,162.5 L930.6,162.8 L931.0,163.0 L931.5,162.2 L931.9,160.9 L932.4,159.9 L932.8,159.1 L933.3,159.3 L933.7,159.3 L934.2,159.2 L934.6,155.7 L935.1,156.3 L935.5,155.9 L936.0,154.4 L936.4,153.9 L936.9,153.3 L937.3,152.6 L937.8,152.2 L938.2,152.1 L938.7,151.6 L939.1,152.0 L939.6,152.2 L940.0,152.4 L940.5,151.5 L940.9,151.5 L941.4,151.4 L941.8,151.7 L942.3,150.5 L942.7,151.3 L943.2,152.2 L943.6,152.6 L944.1,152.2 L944.5,152.4 L945.0,153.0 L945.4,154.4 L945.9,156.1 L946.3,154.6 L946.8,152.6 L947.2,151.7 L947.7,150.5 L948.1,148.7 L948.6,147.9 L949.0,147.6 L949.5,147.9 L949.9,146.5 L950.4,145.9 L950.8,146.5 L951.3,145.5 L951.7,145.9 L952.2,146.1 L952.6,145.9 L953.1,145.0 L953.5,145.1 L954.0,144.9 L954.4,145.7 L954.9,145.4 L955.3,146.8 L955.8,145.7 L956.2,146.2 L956.7,146.6 L957.1,147.6 L957.6,147.0 L958.0,147.6 L958.5,147.1 L958.9,147.9 L959.4,149.1 L959.8,148.2 L960.3,148.4 L960.7,147.5 L961.2,148.5 L961.6,149.3 L962.1,148.9 L962.5,147.9 L963.0,148.5 L963.4,149.5 L963.9,150.1 L964.3,150.4 L964.8,148.6 L965.2,148.6 L965.7,150.3 L966.1,149.0 L966.6,149.2 L967.0,149.6 L967.5,148.5 L967.9,147.9 L968.4,146.5 L968.8,145.0 L969.3,144.8 L969.7,144.5 L970.2,144.6 L970.6,145.1 L971.1,144.7 L971.5,144.7 L972.0,144.9 L972.4,144.7 L972.9,146.2 L973.3,146.0 L973.8,145.7 L974.2,145.4 L974.7,145.0 L975.1,146.2 L975.6,146.0 L976.0,145.0 L976.5,144.9 L976.9,145.1 L977.4,145.2 L977.8,146.7 L978.3,146.0 L978.7,147.0 L979.2,147.5 L979.6,147.0 L980.1,147.7 L980.5,148.1 L981.0,148.9 L981.4,148.7 L981.9,149.3 L982.3,148.2 L982.8,148.0 L983.2,149.4 L983.7,150.3 L984.1,150.1 L984.6,149.6 L985.0,150.4 L985.5,148.3 L985.9,148.0 L986.4,148.8 L986.8,149.2 L987.3,148.1 L987.7,146.9 L988.2,148.8 L988.6,148.8 L989.1,148.1 L989.5,148.4 L990.0,148.9 L990.4,146.4 L990.9,147.7 L991.3,148.0 L991.8,145.3 L992.2,145.4 L992.7,143.1 L993.1,143.6 L993.6,143.1 L994.0,144.3 L994.5,142.7 L994.9,142.1 L995.4,142.5 L995.8,141.2 L996.3,140.5 L996.7,140.2 L997.2,140.1 L997.6,139.3 L998.1,139.9 L998.5,140.1 L999.0,139.8 L999.4,140.8 L999.9,139.7 L1000.3,140.2 L1000.8,139.0 L1001.2,139.0 L1001.7,136.6 L1002.1,136.7 L1002.6,136.2 L1003.0,135.6 L1003.5,135.5 L1003.9,135.8 L1004.4,135.7 L1004.8,134.6 L1005.3,135.2 L1005.7,135.4 L1006.2,135.3 L1006.6,134.7 L1007.1,135.0 L1007.5,135.7 L1008.0,135.3 L1008.4,135.3 L1008.9,136.8 L1009.3,137.4 L1009.8,137.9 L1010.2,138.4 L1010.7,137.6 L1011.1,137.3 L1011.6,138.1 L1012.0,137.3 L1012.5,137.3 L1012.9,137.6 L1013.4,137.2 L1013.8,136.3 L1014.3,136.5 L1014.7,135.5 L1015.2,135.3 L1015.6,135.1 L1016.1,134.3 L1016.5,133.5 L1017.0,131.2 L1017.4,129.6 L1017.9,129.0 L1018.3,129.2 L1018.8,129.8 L1019.2,127.3 L1019.7,126.4 L1020.1,124.5 L1020.6,123.5 L1021.0,123.5 L1021.5,124.2 L1021.9,124.2 L1022.4,124.8 L1022.8,123.5 L1023.3,124.4 L1023.7,124.9 L1024.2,124.7 L1024.6,124.9 L1025.1,124.3 L1025.5,123.5 L1026.0,123.5 L1026.4,123.2 L1026.9,125.6 L1027.3,124.4 L1027.8,125.2 L1028.2,125.0 L1028.7,125.3 L1029.1,125.9 L1029.6,125.3 L1030.0,126.5 L1030.5,126.9 L1030.9,125.8 L1031.4,126.9 L1031.8,127.6 L1032.3,128.1 L1032.7,129.3 L1033.2,128.1 L1033.6,127.8 L1034.1,127.6 L1034.5,126.1 L1035.0,126.6 L1035.4,124.7 L1035.9,123.7 L1036.3,124.4 L1036.8,123.4 L1037.2,123.5 L1037.7,122.2 L1038.1,122.9 L1038.6,122.6 L1039.0,123.6 L1039.5,122.8 L1039.9,123.9 L1040.4,124.0 L1040.8,124.7 L1041.3,125.2 L1041.7,125.8 L1042.2,125.3 L1042.6,124.2 L1043.1,125.7 L1043.5,126.0 L1044.0,126.6 L1044.4,127.7 L1044.9,126.7 L1045.3,127.2 L1045.8,127.6 L1046.2,127.5 L1046.7,128.7 L1047.1,128.9 L1047.6,127.9 L1048.0,127.0 L1048.5,127.5 L1048.9,126.5 L1049.4,126.6 L1049.8,126.7 L1050.3,125.3 L1050.7,125.2 L1051.2,126.0 L1051.6,127.3 L1052.1,128.9 L1052.5,130.2 L1053.0,131.0 L1053.4,129.8 L1053.9,129.1 L1054.3,129.3 L1054.8,128.4 L1055.2,128.8 L1055.7,127.4 L1056.1,128.6 L1056.6,128.8 L1057.0,127.8 L1057.5,129.5 L1057.9,130.0 L1058.4,129.7 L1058.8,128.7 L1059.3,128.4 L1059.7,129.7 L1060.2,128.5 L1060.6,125.7 L1061.1,126.0 L1061.5,125.7 L1062.0,126.2 L1062.4,126.2 L1062.9,125.7 L1063.3,125.4 L1063.8,126.7 L1064.2,125.4 L1064.7,127.2 L1065.1,126.3 L1065.6,125.2 L1066.0,126.0 L1066.5,126.1 L1066.9,124.8 L1067.4,125.4 L1067.8,123.7 L1068.3,123.4 L1068.7,124.7 L1069.2,124.4 L1069.6,123.3 L1070.1,124.0 L1070.5,124.6 L1071.0,124.1 L1071.4,122.0 L1071.9,120.8 L1072.3,120.0 L1072.8,119.2 L1073.2,119.7 L1073.7,118.1 L1074.1,116.8 L1074.6,116.1 L1075.0,116.8 L1075.5,115.5 L1075.9,116.3 L1076.4,113.7 L1076.8,114.8 L1077.3,114.3 L1077.7,115.0 L1078.2,115.7 L1078.6,114.6 L1079.1,114.9 L1079.5,115.4 L1080.0,115.6 L1080.4,114.4 L1080.9,113.7 L1081.3,112.5 L1081.8,115.9 L1082.2,115.9 L1082.7,116.2 L1083.1,115.6 L1083.6,116.8 L1084.0,116.1 L1084.5,117.1 L1084.9,117.1 L1085.4,116.3 L1085.8,116.3 L1086.3,114.8 L1086.7,114.5 L1087.2,114.1 L1087.6,113.2 L1088.1,113.8 L1088.5,114.1 L1089.0,115.5 L1089.4,112.7 L1089.9,113.2 L1090.3,113.4 L1090.8,114.1 L1091.2,115.3 L1091.7,116.2 L1092.1,116.5 L1092.6,116.5 L1093.0,117.2 L1093.5,117.6 L1093.9,116.2 L1094.4,116.7 L1094.8,116.3 L1095.3,116.3 L1095.7,117.9 L1096.2,119.0 L1096.6,120.0 L1097.1,120.2 L1097.5,120.4 L1098.0,119.6 L1098.4,120.0 L1098.9,120.3 L1099.3,121.1 L1099.8,121.4 L1100.2,120.2 L1100.7,120.0 L1101.1,119.6 L1101.6,120.5 L1102.0,122.4 L1102.5,122.6 L1102.9,120.7 L1103.4,120.2 L1103.8,119.2 L1104.3,119.6 L1104.7,119.2 L1105.2,118.8 L1105.6,119.6 L1106.1,118.0 L1106.5,116.8 L1107.0,118.1 L1107.4,117.4 L1107.9,116.0 L1108.3,114.3 L1108.8,113.6 L1109.2,112.5 L1109.7,113.6 L1110.1,114.2 L1110.6,115.0 L1111.0,114.6 L1111.5,113.8 L1111.9,113.3 L1112.4,114.8 L1112.8,112.9 L1113.3,113.7 L1113.7,114.0 L1114.2,114.8 L1114.6,114.5 L1115.1,115.2 L1115.5,115.7 L1116.0,115.1 L1116.4,114.5 L1116.9,114.4 L1117.3,113.7 L1117.8,113.8 L1118.2,113.6 L1118.7,113.7 L1119.1,114.5 L1119.6,114.8 L1120.0,113.5 L1120.5,113.6 L1120.9,113.3 L1121.4,113.5 L1121.8,112.9 L1122.3,112.7 L1122.7,112.0 L1123.2,111.3 L1123.6,112.1 L1124.1,112.8 L1124.5,112.7 L1125.0,112.3 L1125.4,112.0 L1125.9,111.3 L1126.3,110.0 L1126.8,111.2 L1127.2,111.6 L1127.7,111.3 L1128.1,110.8 L1128.6,112.3 L1129.0,110.9 L1129.5,112.8 L1129.9,113.0 L1130.4,114.4 L1130.8,113.0 L1131.3,112.7 L1131.7,112.2 L1132.2,112.4 L1132.6,112.2 L1133.1,111.6 L1133.5,112.6 L1134.0,111.8 L1134.4,111.5 L1134.9,112.1 L1135.3,111.6 L1135.8,111.6 L1136.2,112.3 L1136.7,112.1 L1137.1,111.5 L1137.6,112.1 L1138.0,112.3 L1138.5,113.8 L1138.9,112.4 L1139.4,113.1 L1139.8,112.1 L1140.3,111.8 L1140.7,111.6 L1141.2,111.9 L1141.6,112.7 L1142.1,113.9 L1142.5,112.9 L1143.0,113.9 L1143.4,114.3 L1143.9,114.4 L1144.3,113.5 L1144.8,114.4 L1145.2,114.2 L1145.7,114.6 L1146.1,114.5 L1146.6,115.3 L1147.0,116.3 L1147.5,117.1 L1147.9,116.7 L1148.4,117.6 L1148.8,118.6 L1149.3,117.5 L1149.7,118.8 L1150.2,117.5 L1150.6,118.0" fill="none" stroke="#0089cc" stroke-width="3.4" stroke-linejoin="round" stroke-linecap="round"/>
<line x1="104.0" x2="1150.0" y1="109.5" y2="109.5" stroke="#e8600c" stroke-width="3"/>
<path d="M103.0,96.2 L104.5,96.2 L106.2,95.0 L108.0,95.5 L109.5,97.5 L110.5,102.5 L112.0,106.2 L113.7,107.0 L116.2,108.0 L118.7,109.0 L121.2,109.5 L123.7,110.5 L126.2,112.9 L128.0,116.2 L129.2,119.9 L130.0,127.4 L131.2,129.9 L131.9,137.4 L132.9,145.4 L134.4,147.9 L136.2,149.9 L136.9,158.6 L137.9,167.4 L138.2,179.8 L138.7,192.3 L139.2,199.8 L138.7,200.0 L139.9,204.5 L142.4,206.2 L144.9,208.0 L147.4,207.0 L149.4,208.7 L150.4,215.0 L151.2,221.2 L152.4,213.7 L154.4,214.5 L155.9,217.5 L156.4,224.9 L157.9,232.4 L159.9,235.4 L162.4,236.2 L164.4,237.4 L164.9,247.4 L166.1,253.6 L167.9,257.9 L169.9,259.9 L171.1,264.4 L173.6,268.6 L176.1,271.9 L178.6,276.1 L180.4,279.9 L181.4,286.1 L182.9,289.8 L184.9,292.3 L187.4,294.3 L189.4,297.3 L191.9,298.6 L193.6,296.1 L194.8,291.1 L196.8,286.1 L198.6,281.1 L199.8,276.1 L200.3,264.9 L200.3,205.0 L200.3,204.8 L200.6,189.8 L201.1,177.3 L201.8,167.4 L202.8,161.1 L204.3,158.6 L205.3,154.4 L206.8,152.4 L209.8,151.9 L212.3,151.1 L214.3,149.9 L217.3,149.4 L219.3,146.1 L221.8,145.6 L224.3,146.9 L226.8,147.4 L227.8,153.6 L230.3,154.9 L233.5,154.4 L236.8,153.6 L239.3,152.4 L241.8,151.9 L244.3,150.4 L245.8,147.4 L246.5,139.9 L247.8,137.4 L249.3,133.7 L250.5,132.4 L251.3,124.9 L252.3,121.2 L253.0,114.9 L254.7,113.7 L257.2,111.9 L259.7,111.2 L262.2,111.9 L264.2,110.5 L266.0,108.7 L268.5,107.0 L270.2,109.5 L272.2,110.5 L274.2,112.9 L275.2,117.4 L275.7,142.4 L276.0,167.4 L276.5,179.8 L277.2,187.3 L278.0,194.8 L278.5,195.0 L279.7,198.7 L281.0,205.0 L283.5,207.0 L285.9,206.2 L288.4,208.0 L290.9,207.5 L292.7,210.0 L294.7,213.0 L297.2,214.5 L299.7,214.5 L303.4,214.0 L307.2,213.7 L310.9,213.0 L314.2,212.5 L316.6,214.5 L319.1,216.2 L320.9,220.0 L321.6,227.4 L322.6,234.9 L324.6,241.2 L325.9,249.9 L326.6,262.4 L327.6,272.4 L329.1,276.9 L330.9,277.9 L332.6,279.4 L334.1,272.4 L335.1,266.1 L337.1,263.6 L339.1,262.9 L340.9,264.9 L341.6,271.1 L343.4,274.4 L345.9,275.4 L348.3,276.1 L350.8,280.4 L353.3,283.6 L357.1,284.8 L359.6,285.3 L362.1,287.3 L365.1,288.8 L368.3,288.6 L372.1,287.8 L375.8,287.3 L379.5,288.1 L383.3,287.8 L385.8,289.8 L387.0,294.8 L389.5,296.8 L392.5,297.3 L394.0,293.6 L394.5,286.1 L395.8,284.3 L397.0,286.4 L400.0,285.9 L403.7,285.4 L407.0,285.9 L408.5,290.1 L409.0,297.6 L410.5,301.3 L412.5,304.3 L415.0,305.8 L417.5,307.6 L420.0,309.3 L422.9,310.8 L426.2,312.3 L429.9,313.3 L433.7,313.3 L436.9,312.6 L439.4,310.8 L441.2,307.6 L441.9,302.6 L443.7,301.8 L446.2,303.3 L448.7,302.6 L451.2,300.8 L452.9,303.8 L456.1,304.6 L459.9,304.3 L463.6,304.6 L467.4,304.6 L469.4,306.3 L469.9,315.1 L471.1,320.8 L473.6,323.3 L476.1,325.8 L478.6,327.1 L481.9,326.3 L482.8,321.3 L483.6,316.3 L485.3,319.3 L488.6,319.3 L492.3,318.3 L494.8,317.6 L496.8,313.8 L498.6,310.1 L501.1,308.3 L504.3,307.6 L507.3,306.3 L509.3,303.3 L511.1,297.6 L512.8,295.9 L514.8,293.4 L516.0,292.6 L517.3,296.8 L520.3,296.8 L521.8,291.4 L522.8,287.6 L524.8,285.9 L526.8,284.4 L529.3,282.6 L531.8,280.9 L533.5,277.6 L534.8,272.6 L536.8,270.1 L539.3,268.4 L541.8,266.4 L544.2,265.2 L546.0,261.9 L548.5,260.9 L549.7,257.7 L551.0,251.4 L552.7,248.4 L554.2,243.9 L556.0,240.2 L557.7,238.9 L558.7,241.4 L559.7,236.4 L561.7,234.0 L562.7,229.0 L564.0,225.2 L566.0,222.7 L568.5,220.2 L571.0,218.5 L573.5,217.7 L575.2,216.0 L578.4,214.7 L582.2,214.5 L585.9,214.7 L587.2,217.7 L589.2,219.5 L591.7,221.5 L594.2,222.0 L596.7,221.5 L597.7,225.2 L600.2,227.0 L602.7,228.5 L605.2,229.5 L608.4,229.7 L609.6,234.0 L612.1,235.2 L614.6,236.9 L617.6,238.9 L620.1,240.9 L622.6,241.9 L624.6,239.4 L625.9,241.4 L627.1,245.2 L629.1,249.4 L630.9,252.7 L632.6,255.9 L634.6,259.4 L635.9,263.9 L637.6,268.4 L638.6,273.9 L639.6,280.1 L640.8,283.9 L643.3,286.9 L645.1,290.1 L647.1,293.9 L649.1,296.8 L651.6,298.3 L654.1,299.3 L656.6,300.1 L659.1,298.8 L660.1,295.9 L662.6,295.1 L665.8,295.1 L667.5,294.4 L668.3,290.1 L670.0,287.6 L671.5,285.1 L674.0,283.9 L677.0,283.4 L679.5,284.4 L682.0,283.4 L685.8,283.9 L687.0,281.4 L690.0,281.4 L692.5,280.9 L693.7,276.4 L696.2,275.9 L698.0,278.9 L700.0,282.6 L702.5,285.9 L705.0,288.4 L707.5,289.4 L711.2,288.9 L714.9,288.4 L718.7,288.9 L721.2,288.4 L721.7,278.9 L721.9,268.9 L723.7,264.4 L726.2,263.9 L728.7,264.4 L731.2,263.9 L733.7,261.9 L735.4,263.9 L737.9,265.2 L740.4,265.9 L742.9,266.9 L743.9,271.4 L745.4,276.4 L747.4,280.1 L749.4,281.9 L752.4,282.6 L754.9,283.9 L757.9,283.9 L761.1,283.9 L762.9,285.9 L767.9,285.9 L768.4,291.4 L771.1,290.9 L774.3,290.1 L777.3,289.4 L779.8,288.4 L781.8,285.9 L783.6,282.6 L785.3,278.4 L787.3,275.1 L789.3,272.6 L791.1,269.4 L792.8,266.9 L794.8,264.7 L796.1,266.4 L796.6,278.9 L797.8,283.4 L799.8,285.9 L802.3,286.9 L804.8,287.6 L806.8,285.1 L808.8,288.4 L810.3,283.9 L811.5,278.9 L813.5,276.4 L816.0,273.4 L818.5,270.1 L821.0,269.4 L823.5,267.6 L826.0,266.4 L829.3,265.2 L832.8,264.7 L836.0,263.2 L839.2,261.4 L842.2,260.4 L846.0,260.2 L849.7,260.4 L852.2,258.4 L854.7,258.9 L856.7,260.9 L858.5,263.9 L860.2,269.4 L862.7,270.9 L865.2,271.9 L867.2,275.1 L869.7,276.4 L872.7,275.9 L875.9,276.9 L879.2,277.6 L882.2,278.9 L884.7,277.6 L885.9,281.4 L887.2,286.4 L889.2,288.4 L890.9,285.9 L892.7,284.4 L895.2,287.6 L898.4,286.9 L901.6,288.4 L904.6,288.9 L908.4,289.4 L911.6,288.9 L914.1,290.9 L917.1,291.9 L920.9,292.6 L922.6,290.9 L925.9,291.4 L928.5,294.4 L931.5,296.2 L934.7,296.9 L938.0,297.9 L940.5,299.9 L943.0,299.4 L944.7,303.6 L947.2,304.4 L948.5,301.2 L952.2,301.2 L956.0,301.2 L958.4,301.4 L960.4,305.4 L962.9,306.9 L965.9,307.4 L967.2,313.6 L969.7,316.1 L972.2,317.9 L974.7,320.4 L977.9,321.9 L980.9,322.4 L983.9,323.6 L986.4,326.1 L988.9,327.9 L991.4,327.9 L993.9,326.1 L995.9,327.4 L997.1,331.1 L1000.4,331.4 L1003.4,330.9 L1006.4,330.4 L1008.4,328.6 L1010.4,327.9 L1012.1,329.9 L1015.4,329.4 L1018.4,329.9 L1020.8,328.9 L1022.8,330.9 L1025.8,330.4 L1028.8,329.9 L1032.1,328.9 L1035.3,327.9 L1038.3,327.4 L1041.3,328.1 L1043.8,328.9 L1046.3,327.9 L1049.5,327.4 L1052.0,324.9 L1053.3,321.1 L1055.8,320.4 L1058.3,321.1 L1060.8,320.4 L1063.8,319.4 L1067.0,319.9 L1069.5,321.1 L1072.0,319.4 L1074.5,318.6 L1078.3,318.6 L1082.0,318.1 L1085.2,318.9 L1088.2,319.4 L1090.7,318.4 L1093.7,318.6 L1095.7,317.4 L1098.2,316.9 L1100.7,318.9 L1103.7,318.1 L1106.2,318.9 L1108.7,320.4 L1111.9,321.4 L1115.2,321.6 L1118.2,321.4 L1121.2,321.6 L1124.4,322.4 L1126.9,324.4 L1127.7,327.9 L1129.4,329.4 L1132.7,330.4 L1135.7,331.1 L1138.7,331.9 L1141.9,331.4 L1144.4,330.9 L1146.9,331.4 L1149.4,332.4 L1150.6,332.4" fill="none" stroke="#ffb900" stroke-width="3.4" stroke-linejoin="round" stroke-linecap="round"/>
<line x1="104.0" x2="1150.0" y1="333.5" y2="333.5" stroke="#7ac11a" stroke-width="3"/>
</g>
<line x1="307.5" x2="333.5" y1="467.4" y2="467.4" stroke="#0089cc" stroke-width="3" stroke-linecap="round"/>
<text class="ax" x="340.5" y="472.0" style="letter-spacing:0.09px">Bitcoin Price</text>
<line x1="448" x2="473.2" y1="467.4" y2="467.4" stroke="#e8600c" stroke-width="3" stroke-linecap="round"/>
<text class="ax" x="480" y="472.0" style="letter-spacing:0.13px">Price ATH</text>
<line x1="573.5" x2="599.5" y1="467.4" y2="467.4" stroke="#ffb900" stroke-width="3" stroke-linecap="round"/>
<text class="ax" x="602.5" y="472.0" style="letter-spacing:0.05px">1-Year Realized Volatility</text>
<line x1="785.5" x2="810.5" y1="467.4" y2="467.4" stroke="#7ac11a" stroke-width="3" stroke-linecap="round"/>
<text class="ax" x="813.5" y="472.0" style="letter-spacing:0.12px">Volatility ATL</text>
<text x="32.8" y="530.9" font-size="10.67px" fill="#000000" style="letter-spacing:0.11px">Source: Fidelity Digital Assets Research via Glassnode, as of 20 November 2025.</text>
</svg></body></html>
